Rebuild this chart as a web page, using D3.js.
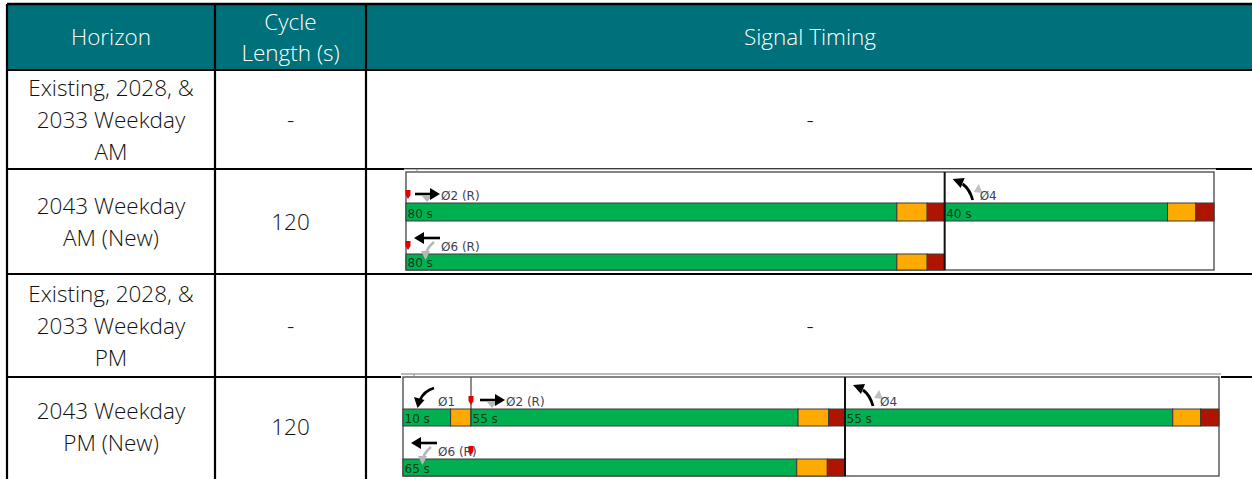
<!DOCTYPE html>
<html>
<head>
<meta charset="utf-8">
<script src="https://cdn.jsdelivr.net/npm/d3@7"></script>
<style>
  body { margin: 0; background: #fff; }
  .cell { font-family: "Open Sans", Lato, sans-serif; font-weight: 300; font-size: 22.5px; fill: #111; }
  .head { fill: #fff; }
  .plabel { font-family: "DejaVu Sans", Verdana, sans-serif; font-size: 12px; fill: #3d4250; }
  .btext { font-family: "DejaVu Sans", Verdana, sans-serif; font-size: 12px; fill: #103a18; }
</style>
</head>
<body>
<div id="chart"></div>
<script>
// table content
let headers = [["Horizon"], ["Cycle", "Length (s)"], ["Signal Timing"]];
let horizons = [
    ["Existing, 2028, &", "2033 Weekday", "AM"],
    ["2043 Weekday", "AM (New)"],
    ["Existing, 2028, &", "2033 Weekday", "PM"],
    ["2043 Weekday", "PM (New)"]
];
let cycleLengths = ["-", "120", "-", "120"];

// signal timing: phases per ring (split, yellow, all-red in seconds)
let amRing1 = [
    { phase: "Ø2 (R)", move: "ebt", split: 80, yellow: 4.5, allRed: 2.6 },
    { phase: "Ø4", move: "nbl", split: 40, yellow: 4.2, allRed: 2.7 }
];
let amRing2 = [
    { phase: "Ø6 (R)", move: "wbt", split: 80, yellow: 4.5, allRed: 2.6 }
];
let pmRing1 = [
    { phase: "Ø1", move: "wbl", split: 10, yellow: 3.0, allRed: 0 },
    { phase: "Ø2 (R)", move: "ebt", split: 55, yellow: 4.5, allRed: 2.4 },
    { phase: "Ø4", move: "nbl", split: 55, yellow: 4.1, allRed: 2.7 }
];
let pmRing2 = [
    { phase: "Ø6 (R)", move: "wbt", split: 65, yellow: 4.5, allRed: 2.6 }
];
let amCycle = 120, pmCycle = 120;
let amBarrier = 80, pmBarrier = 65;
let amRef = 0, pmRef = 10;

let svgWidth = 1252;
let svgHeight = 479;

let svg = d3.select("#chart")
            .append("svg")
            .attr("width", svgWidth)
            .attr("height", svgHeight);

// table grid
let colX = [7, 215, 366, 1260];
let rowY = [4, 70, 169, 274, 377, 490];
let lineH = 32;

svg.append("rect")
    .attr("x", colX[0]).attr("y", rowY[0])
    .attr("width", colX[3] - colX[0]).attr("height", rowY[1] - rowY[0])
    .attr("fill", "#00707a");

// header text
headers.forEach((lines, i) => {
    let cx = (colX[i] + colX[i + 1]) / 2;
    if (i == 2) cx = 810;
    let cy = (rowY[0] + rowY[1]) / 2;
    lines.forEach((t, j) => {
        svg.append("text")
            .attr("class", "cell head")
            .attr("x", cx)
            .attr("y", cy + (j - (lines.length - 1) / 2) * 31 + 8)
            .attr("text-anchor", "middle")
            .text(t);
    });
});

// body text
horizons.forEach((lines, i) => {
    let cy = (rowY[i + 1] + rowY[i + 2]) / 2;
    if (i == 3) cy = 427;
    lines.forEach((t, j) => {
        svg.append("text")
            .attr("class", "cell")
            .attr("x", (colX[0] + colX[1]) / 2)
            .attr("y", cy + (j - (lines.length - 1) / 2) * lineH + 8)
            .attr("text-anchor", "middle")
            .text(t);
    });
    svg.append("text")
        .attr("class", "cell")
        .attr("x", (colX[1] + colX[2]) / 2)
        .attr("y", cy + 8)
        .attr("text-anchor", "middle")
        .text(cycleLengths[i]);
    if (cycleLengths[i] == "-") {
        svg.append("text")
            .attr("class", "cell")
            .attr("x", 810)
            .attr("y", cy + 8)
            .attr("text-anchor", "middle")
            .text("-");
    }
});

// grid lines
let grid = svg.append("g").attr("stroke", "#000").attr("stroke-width", 2.2);
rowY.slice(0, 5).forEach(y => {
    grid.append("line").attr("x1", colX[0]).attr("x2", svgWidth).attr("y1", y).attr("y2", y);
});
colX.slice(0, 3).forEach(x => {
    grid.append("line").attr("x1", x).attr("x2", x).attr("y1", rowY[0]).attr("y2", svgHeight);
});
grid.select("line").attr("stroke-width", 2.6);

// movement icons
function drawIcon(g, move, x, y) {
    let black = "#000", grey = "#b8b8b8";
    if (move == "ebt") {
        g.append("path").attr("d", `M${x + 7},${y - 2} l5,6 l5,-6 z`).attr("fill", grey);
        g.append("line").attr("x1", x).attr("x2", x + 16).attr("y1", y - 4).attr("y2", y - 4)
            .attr("stroke", black).attr("stroke-width", 2.6);
        g.append("path").attr("d", `M${x + 15},${y - 10} l10,6 l-10,6 z`).attr("fill", black);
    } else if (move == "wbt") {
        g.append("path").attr("d", `M${x + 19},${y - 7} Q${x + 13},${y - 2} ${x + 11},${y + 4}`)
            .attr("stroke", grey).attr("stroke-width", 2.6).attr("fill", "none");
        g.append("path").attr("d", `M${x + 6},${y + 2} l4.5,9 l4.5,-9 z`).attr("fill", grey);
        g.append("line").attr("x1", x + 7).attr("x2", x + 25).attr("y1", y - 11).attr("y2", y - 11)
            .attr("stroke", black).attr("stroke-width", 2.6);
        g.append("path").attr("d", `M${x + 9},${y - 17} l-10,6 l10,6 z`).attr("fill", black);
    } else if (move == "wbl") {
        g.append("path").attr("d", `M${x + 22},${y - 16} Q${x + 12},${y - 13} ${x + 8},${y - 4}`)
            .attr("stroke", black).attr("stroke-width", 2.8).attr("fill", "none");
        g.append("path").attr("d", `M${x + 2},${y - 7} l3.5,11 l7,-8 z`).attr("fill", black);
    } else if (move == "nbl") {
        g.append("path").attr("d", `M${x + 20},${y - 6} l5,-8 l4,9 z`).attr("fill", "#c0c0c0");
        g.append("path").attr("d", `M${x + 19},${y + 2} Q${x + 16},${y - 9} ${x + 9},${y - 14}`)
            .attr("stroke", black).attr("stroke-width", 2.8).attr("fill", "none");
        g.append("path").attr("d", `M${x - 1},${y - 19} l12,-1 l-4,10 z`).attr("fill", black);
    }
}

function drawMarker(g, x, y) {
    g.append("path")
        .attr("d", `M${x - 2.5},${y - 8} h5 v5 l-2.5,4 l-2.5,-4 z`)
        .attr("fill", "#e00000");
}

function drawTiming(cfg) {
    let g = svg.append("g");
    let x = d3.scaleLinear().domain([0, cfg.cycle]).range([cfg.x0, cfg.x1]);

    g.append("rect")
        .attr("x", cfg.x0 - 2).attr("y", cfg.top - 3)
        .attr("width", cfg.x1 - cfg.x0 + 4).attr("height", cfg.bar2[1] - cfg.top + 5)
        .attr("fill", "#fff");
    g.append("line")
        .attr("x1", cfg.x0 - 2).attr("x2", cfg.x1 + 2)
        .attr("y1", cfg.top - 3).attr("y2", cfg.top - 3)
        .attr("stroke", "#777").attr("stroke-width", 1);
    g.append("rect")
        .attr("x", cfg.x0).attr("y", cfg.top)
        .attr("width", cfg.x1 - cfg.x0).attr("height", cfg.bar2[1] - cfg.top)
        .attr("fill", "#fff").attr("stroke", "#444").attr("stroke-width", 1.3);

    [cfg.ring1, cfg.ring2].forEach((ring, r) => {
        let bar = r == 0 ? cfg.bar1 : cfg.bar2;
        let t = 0;
        ring.forEach((p, k) => {
            let start = t;
            let segs = [
                { t0: start, t1: start + p.split - p.yellow - p.allRed, c: "#00b050" },
                { t0: start + p.split - p.yellow - p.allRed, t1: start + p.split - p.allRed, c: "#ffaa00" },
                { t0: start + p.split - p.allRed, t1: start + p.split, c: "#ae1400" }
            ].filter(s => s.t1 > s.t0);
            g.selectAll(null)
                .data(segs)
                .enter()
                .append("rect")
                .attr("x", s => x(s.t0))
                .attr("y", bar[0])
                .attr("width", s => x(s.t1) - x(s.t0))
                .attr("height", bar[1] - bar[0])
                .attr("fill", s => s.c)
                .attr("stroke", "#3a3a3a")
                .attr("stroke-width", 1);
            g.append("text")
                .attr("class", "btext")
                .attr("x", x(start) + 1.5)
                .attr("y", bar[1] - 3.5)
                .text(`${p.split} s`);
            drawIcon(g, p.move, x(start) + 9, bar[0] - 5);
            g.append("text")
                .attr("class", "plabel")
                .attr("x", x(start) + 35)
                .attr("y", bar[0] - 3)
                .text(p.phase);
            // divider between phases inside ring 1
            if (r == 0 && k > 0 && start != cfg.barrier) {
                g.append("line")
                    .attr("x1", x(start)).attr("x2", x(start))
                    .attr("y1", cfg.top).attr("y2", bar[1])
                    .attr("stroke", "#444").attr("stroke-width", 1.2);
            }
            t += p.split;
        });
        drawMarker(g, x(cfg.ref) + (cfg.ref == 0 ? 2 : 0), bar[0] - 5);
    });

    // barrier
    g.append("line")
        .attr("x1", x(cfg.barrier)).attr("x2", x(cfg.barrier))
        .attr("y1", cfg.top).attr("y2", cfg.bar2[1])
        .attr("stroke", "#111").attr("stroke-width", 2);

    // small mark along the clipped top edge of the pasted diagram
    g.append("line").attr("x1", cfg.x0 + 11).attr("x2", cfg.x0 + 11)
        .attr("y1", cfg.top - 3).attr("y2", cfg.top).attr("stroke", "#888");
}

drawTiming({
    x0: 406, x1: 1214, top: 172, bar1: [203, 221], bar2: [254, 270],
    cycle: amCycle, barrier: amBarrier, ref: amRef, ring1: amRing1, ring2: amRing2
});
drawTiming({
    x0: 403, x1: 1219, top: 377, bar1: [409, 426], bar2: [459, 476],
    cycle: pmCycle, barrier: pmBarrier, ref: pmRef, ring1: pmRing1, ring2: pmRing2
});
</script>
</body>
</html>
